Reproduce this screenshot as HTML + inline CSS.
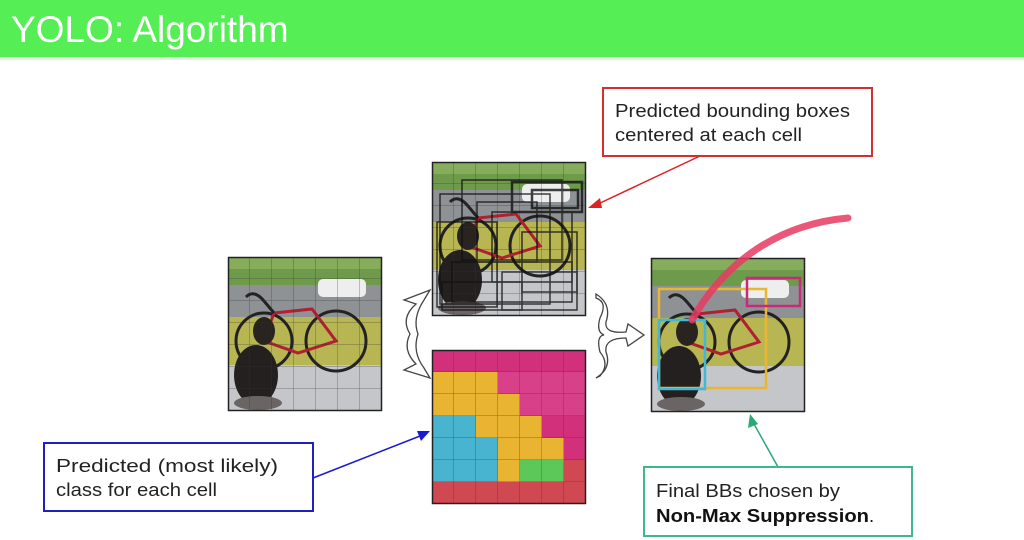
<!DOCTYPE html>
<html><head><meta charset="utf-8"><style>
html,body{margin:0;padding:0;background:#fff;width:1024px;height:540px;overflow:hidden;font-family:"Liberation Sans",sans-serif}
</style></head><body>
<svg width="1024" height="540" viewBox="0 0 1024 540" xmlns="http://www.w3.org/2000/svg" style="position:absolute;left:0;top:0">
<defs>
<symbol id="scene" viewBox="0 0 154 154">
  <rect width="154" height="154" fill="#c9ccd0"/>
  <rect width="154" height="30" fill="#6e9a4c"/>
  <rect x="0" y="0" width="154" height="12" fill="#86ad5c"/>
  <rect y="28" width="154" height="34" fill="#8e9294"/>
  <rect x="90" y="22" width="48" height="18" rx="5" fill="#eeeeee"/>
  <rect y="60" width="154" height="50" fill="#b8b652"/>
  <rect y="108" width="154" height="46" fill="#c4c6ca"/>
  <circle cx="36" cy="84" r="28" fill="none" stroke="#222" stroke-width="3"/>
  <circle cx="108" cy="84" r="30" fill="none" stroke="#222" stroke-width="3"/>
  <path d="M36 84 L70 96 L108 84 L84 52 L46 56 Z" fill="none" stroke="#b02030" stroke-width="3"/>
  <path d="M18 40 Q26 32 36 44 L46 56" fill="none" stroke="#222" stroke-width="3"/>
  <ellipse cx="28" cy="118" rx="22" ry="30" fill="#252020"/>
  <ellipse cx="36" cy="74" rx="11" ry="14" fill="#2a2420"/>
  <ellipse cx="30" cy="146" rx="24" ry="7" fill="#6a6464"/>
</symbol>
<pattern id="grid" width="22" height="22" patternUnits="userSpaceOnUse">
  <path d="M22 0 V22 H0" fill="none" stroke="#333" stroke-width="1" opacity=".55"/>
</pattern>
</defs>

<rect x="0" y="0" width="1024" height="57" fill="#55ee55"/>
<rect x="0" y="57" width="1024" height="3" fill="#e8e8e8"/>
<text x="11" y="42" font-size="37" fill="#fff" font-family="Liberation Sans, sans-serif">YOLO: Algorithm</text>

<g transform="translate(228,257)">
  <use href="#scene" width="154" height="154"/>
  <rect width="154" height="154" fill="url(#grid)"/>
  <rect x="0.5" y="0.5" width="153" height="153" fill="none" stroke="#222" stroke-width="1.5"/>
</g>

<g transform="translate(432,162)">
  <use href="#scene" width="154" height="154"/>
  <rect width="154" height="154" fill="url(#grid)"/>
  <g fill="none" stroke="#111" stroke-width="1.5" opacity=".8">
    <rect x="8" y="32" width="110" height="110"/>
    <rect x="30" y="18" width="100" height="80"/>
    <rect x="80" y="20" width="70" height="30" stroke-width="2.5"/>
    <rect x="100" y="28" width="46" height="18" stroke-width="2.5"/>
    <rect x="5" y="60" width="60" height="85"/>
    <rect x="60" y="50" width="80" height="70"/>
    <rect x="20" y="100" width="120" height="40"/>
    <rect x="45" y="40" width="60" height="60"/>
    <rect x="90" y="70" width="55" height="60"/>
    <rect x="10" y="120" width="80" height="28"/>
    <rect x="70" y="110" width="75" height="38"/>
  </g>
  <rect x="0.5" y="0.5" width="153" height="153" fill="none" stroke="#222" stroke-width="1.5"/>
</g>

<g transform="translate(432,350)">
  <rect x="0" y="0" width="154" height="22" fill="#d2307a"/>
  <rect x="0" y="22" width="66" height="22" fill="#e8b432"/><rect x="66" y="22" width="88" height="22" fill="#d8408a"/>
  <rect x="0" y="44" width="88" height="22" fill="#e8b432"/><rect x="88" y="44" width="66" height="22" fill="#d8408a"/>
  <rect x="0" y="66" width="44" height="22" fill="#48b4d0"/><rect x="44" y="66" width="66" height="22" fill="#e8b432"/><rect x="110" y="66" width="44" height="22" fill="#d2307a"/>
  <rect x="0" y="88" width="66" height="22" fill="#48b4d0"/><rect x="66" y="88" width="66" height="22" fill="#e8b432"/><rect x="132" y="88" width="22" height="22" fill="#d2307a"/>
  <rect x="0" y="110" width="66" height="22" fill="#48b4d0"/><rect x="66" y="110" width="22" height="22" fill="#e8b432"/><rect x="88" y="110" width="44" height="22" fill="#5cc85a"/><rect x="132" y="110" width="22" height="22" fill="#d04852"/>
  <rect x="0" y="132" width="154" height="22" fill="#d04852"/>
  <rect width="154" height="154" fill="url(#grid)"/>
  <rect x="0.5" y="0.5" width="153" height="153" fill="none" stroke="#222" stroke-width="1.5"/>
</g>

<g transform="translate(651,258)">
  <use href="#scene" width="154" height="154"/>
  <rect x="0.5" y="0.5" width="153" height="153" fill="none" stroke="#222" stroke-width="1.5"/>
  <rect x="8" y="31" width="107" height="99" fill="none" stroke="#eab630" stroke-width="2.5"/>
  <rect x="8" y="62" width="46" height="69" fill="none" stroke="#40b8d8" stroke-width="2.5"/>
  <rect x="96" y="20" width="53" height="28" fill="none" stroke="#c82a78" stroke-width="2.5"/>
</g>
<path d="M692 320 C720 270 770 225 848 218" fill="none" stroke="#e83a62" stroke-width="7" stroke-linecap="round" opacity=".85"/>

<g fill="#fff" stroke="#444" stroke-width="1.3">
  <path d="M404 300 L430 290 L424 300 Q412 318 418 334 Q412 352 424 368 L430 378 L404 370 L416 364 Q402 350 410 334 Q400 318 416 304 Z"/>
  <path d="M596 294 Q612 304 606 322 Q604 334 626 332 L628 324 L644 335 L628 346 L626 338 Q604 338 606 352 Q612 368 596 378 L600 376 Q610 364 600 352 Q596 336 604 335 Q596 332 600 318 Q608 302 596 298 Z"/>
</g>

<line x1="700" y1="156" x2="598" y2="204" stroke="#dd2222" stroke-width="1.5"/>
<polygon points="588,208 600,198 602,208" fill="#dd2222"/>
<line x1="313" y1="478" x2="420" y2="436" stroke="#1a1ad0" stroke-width="1.5"/>
<polygon points="430,431 417,431 421,441" fill="#1a1ad0"/>
<line x1="778" y1="467" x2="754" y2="424" stroke="#2aa878" stroke-width="1.5"/>
<polygon points="750,414 748,428 758,424" fill="#2aa878"/>

<rect x="603" y="88" width="269" height="68" fill="#fff" stroke="#d23030" stroke-width="2"/>
<text x="615" y="117" font-size="18.5" fill="#222" textLength="235" lengthAdjust="spacingAndGlyphs">Predicted bounding boxes</text>
<text x="615" y="141" font-size="18.5" fill="#222" textLength="187" lengthAdjust="spacingAndGlyphs">centered at each cell</text>

<rect x="44" y="443" width="269" height="68" fill="#fff" stroke="#2020c0" stroke-width="2"/>
<text x="56" y="472" font-size="18.5" fill="#222" textLength="222" lengthAdjust="spacingAndGlyphs">Predicted (most likely)</text>
<text x="56" y="496" font-size="18.5" fill="#222" textLength="161" lengthAdjust="spacingAndGlyphs">class for each cell</text>

<rect x="644" y="467" width="268" height="69" fill="#fff" stroke="#3cb88a" stroke-width="2"/>
<text x="656" y="497" font-size="18.5" fill="#222" textLength="184" lengthAdjust="spacingAndGlyphs">Final BBs chosen by</text>
<text x="656" y="522" font-size="18.5" fill="#111" font-weight="bold" textLength="213" lengthAdjust="spacingAndGlyphs">Non-Max Suppression</text>
<text x="869" y="522" font-size="18.5" fill="#111">.</text>
</svg>
</body></html>
